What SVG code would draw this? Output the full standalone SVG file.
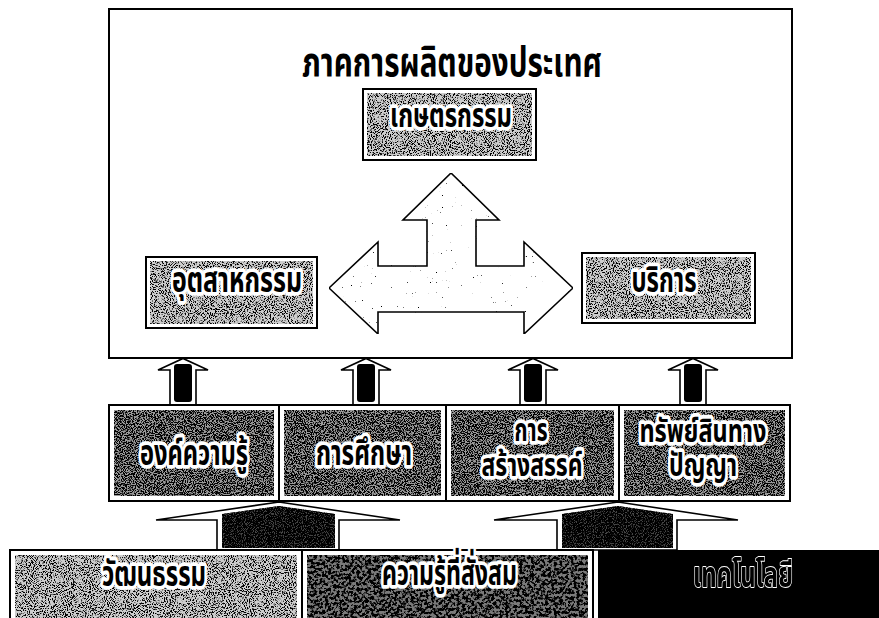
<svg xmlns="http://www.w3.org/2000/svg" width="879" height="618" viewBox="0 0 879 618">
<style>
.frame{fill:#fff;stroke:#000;stroke-width:2}
.box{fill:#fff;stroke:#000;stroke-width:2}
.lt{fill:#cdcdcd}
.md{fill:#9a9a9a}
.arr{fill:#fff;stroke:#000;stroke-width:1.6;stroke-linejoin:miter}
.blk{fill:#000}
.t{font-family:"Noto Sans Thai","Noto Sans Thai UI","Noto Serif Thai","Loma","Garuda","Tlwg Typo","Noto Sans","DejaVu Sans",sans-serif;font-weight:bold;text-anchor:middle;fill:#000}
.h{stroke:#fff;stroke-width:6;stroke-linejoin:round;paint-order:stroke fill}
.hw{stroke:#fff;stroke-width:1.4;stroke-linejoin:round;paint-order:stroke fill}
</style>
<defs>
<filter id="fLt" x="0" y="0" width="1" height="1" color-interpolation-filters="sRGB">
<feTurbulence type="fractalNoise" baseFrequency="0.95" numOctaves="2" seed="3" result="n"/>
<feColorMatrix in="n" type="matrix" values="0 0 0 0 0  0 0 0 0 0  0 0 0 0 0  8 0 0 0 -4.0" result="d"/>
<feComposite in="d" in2="SourceAlpha" operator="in" result="dc"/>
<feMerge><feMergeNode in="SourceGraphic"/><feMergeNode in="dc"/></feMerge>
</filter>
<filter id="fMd" x="0" y="0" width="1" height="1" color-interpolation-filters="sRGB">
<feTurbulence type="fractalNoise" baseFrequency="0.9" numOctaves="3" seed="7" result="n"/>
<feColorMatrix in="n" type="matrix" values="0 0 0 0 0  0 0 0 0 0  0 0 0 0 0  9 0 0 0 -4.0" result="d"/>
<feComposite in="d" in2="SourceAlpha" operator="in" result="dc"/>
<feMerge><feMergeNode in="SourceGraphic"/><feMergeNode in="dc"/></feMerge>
</filter>
<filter id="fDk" x="0" y="0" width="1" height="1" color-interpolation-filters="sRGB">
<feTurbulence type="fractalNoise" baseFrequency="0.35" numOctaves="4" seed="11" result="n"/>
<feColorMatrix in="n" type="matrix" values="0 0 0 0 0  0 0 0 0 0  0 0 0 0 0  7 0 0 0 -3.0" result="d"/>
<feComposite in="d" in2="SourceAlpha" operator="in" result="dc"/>
<feMerge><feMergeNode in="SourceGraphic"/><feMergeNode in="dc"/></feMerge>
</filter>
<filter id="fBk" x="0" y="0" width="1" height="1" color-interpolation-filters="sRGB">
<feTurbulence type="fractalNoise" baseFrequency="0.9" numOctaves="2" seed="9" result="n"/>
<feColorMatrix in="n" type="matrix" values="0 0 0 0 0  0 0 0 0 0  0 0 0 0 0  9 0 0 0 -3.3" result="d"/>
<feComposite in="d" in2="SourceAlpha" operator="in" result="dc"/>
<feMerge><feMergeNode in="SourceGraphic"/><feMergeNode in="dc"/></feMerge>
</filter>
<filter id="fSp" x="0" y="0" width="1" height="1" color-interpolation-filters="sRGB">
<feTurbulence type="fractalNoise" baseFrequency="0.8" numOctaves="2" seed="5" result="n"/>
<feColorMatrix in="n" type="matrix" values="0 0 0 0 0  0 0 0 0 0  0 0 0 0 0  14 0 0 0 -10.8" result="d"/>
<feComposite in="d" in2="SourceAlpha" operator="in" result="dc"/>
<feMerge><feMergeNode in="SourceGraphic"/><feMergeNode in="dc"/></feMerge>
</filter>
</defs>

<g id="main-sector">
<rect class="frame" x="109" y="9" width="683" height="349"/>
<text class="t" transform="translate(452,76) scale(1,1.22)" font-size="33" textLength="300" lengthAdjust="spacingAndGlyphs">ภาคการผลิตของประเทศ</text>
</g>

<g id="connectors">
<polygon class="arr" filter="url(#fSp)" points="451,173 499,220 476,220 476,266 524,266 524,242 573,288 524,334 524,312 378,312 378,334 329,288 378,242 378,266 427,266 427,220 403,220"/>
<g id="up-arrows">
<polygon class="arr" points="170,405 170,370 158,370 183,358.5 208,370 196,370 196,405"/>
<rect class="blk" x="174" y="364" width="18" height="38" rx="3"/>
<polygon class="arr" points="353,405 353,370 341,370 366,358.5 391,370 379,370 379,405"/>
<rect class="blk" x="357" y="364" width="18" height="38" rx="3"/>
<polygon class="arr" points="520,405 520,370 508,370 533,358.5 558,370 546,370 546,405"/>
<rect class="blk" x="524" y="364" width="18" height="38" rx="3"/>
<polygon class="arr" points="680,405 680,370 668,370 693,358.5 718,370 706,370 706,405"/>
<rect class="blk" x="684" y="364" width="18" height="38" rx="3"/>
</g>
<g id="base-arrows">
<polygon class="arr" points="217,550 217,520 156,520 279,502 400,520 339,520 339,550"/>
<polygon fill="#444" filter="url(#fBk)" points="222,548 222,514 279,506 335,514 335,548"/>
<polygon class="arr" points="557,550 557,520 494,520 618,502 738,520 677,520 677,550"/>
<polygon fill="#444" filter="url(#fBk)" points="562,548 562,514 618,506 673,514 673,548"/>
</g>
</g>

<g id="agriculture">
<rect class="box" x="363" y="89" width="173" height="71"/>
<rect class="lt" filter="url(#fLt)" x="367" y="93" width="165" height="63"/>
<text class="t h" transform="translate(451,127) scale(1,1.25)" font-size="27" textLength="122" lengthAdjust="spacingAndGlyphs">เกษตรกรรม</text>
</g>
<g id="industry">
<rect class="box" x="146" y="257" width="171" height="71"/>
<rect class="lt" filter="url(#fLt)" x="150" y="261" width="163" height="63"/>
<text class="t h" transform="translate(237,292) scale(1,1.28)" font-size="27" textLength="130" lengthAdjust="spacingAndGlyphs">อุตสาหกรรม</text>
</g>
<g id="services">
<rect class="box" x="582" y="253" width="173" height="70"/>
<rect class="lt" filter="url(#fLt)" x="586" y="257" width="165" height="62"/>
<text class="t h" transform="translate(664,292) scale(1,1.28)" font-size="27" textLength="65" lengthAdjust="spacingAndGlyphs">บริการ</text>
</g>

<g id="knowledge-body">
<rect class="box" x="109" y="405" width="170" height="96"/>
<rect class="md" filter="url(#fMd)" x="114" y="410" width="160" height="86"/>
<text class="t h" transform="translate(194,465) scale(1,1.28)" font-size="27" textLength="108" lengthAdjust="spacingAndGlyphs">องค์ความรู้</text>
</g>
<g id="education">
<rect class="box" x="279" y="405" width="167" height="96"/>
<rect class="md" filter="url(#fMd)" x="284" y="410" width="157" height="86"/>
<text class="t h" transform="translate(364,465) scale(1,1.28)" font-size="27" textLength="96" lengthAdjust="spacingAndGlyphs">การศึกษา</text>
</g>
<g id="creativity">
<rect class="box" x="446" y="405" width="173" height="96"/>
<rect class="md" filter="url(#fMd)" x="451" y="410" width="163" height="86"/>
<text class="t h" transform="translate(531,441) scale(1,1.25)" font-size="26" textLength="33" lengthAdjust="spacingAndGlyphs">การ</text>
<text class="t h" transform="translate(532,476) scale(1,1.25)" font-size="26" textLength="101" lengthAdjust="spacingAndGlyphs">สร้างสรรค์</text>
</g>
<g id="intellectual-property">
<rect class="box" x="619" y="405" width="171" height="96"/>
<rect class="md" filter="url(#fMd)" x="624" y="410" width="161" height="86"/>
<text class="t h" transform="translate(703,442) scale(1,1.25)" font-size="26" textLength="127" lengthAdjust="spacingAndGlyphs">ทรัพย์สินทาง</text>
<text class="t h" transform="translate(703,476) scale(1,1.25)" font-size="26" textLength="68" lengthAdjust="spacingAndGlyphs">ปัญญา</text>
</g>

<g id="culture">
<rect class="box" x="10" y="550" width="292" height="80"/>
<rect class="lt" filter="url(#fLt)" x="15" y="555" width="282" height="70"/>
<text class="t h" transform="translate(154,586) scale(1,1.28)" font-size="28" textLength="104" lengthAdjust="spacingAndGlyphs">วัฒนธรรม</text>
</g>
<g id="accumulated-knowledge">
<rect class="box" x="302" y="550" width="291" height="80"/>
<rect fill="#7a7a7a" filter="url(#fDk)" x="307" y="555" width="281" height="70"/>
<text class="t h" transform="translate(449.5,585) scale(1,1.28)" font-size="28" textLength="135" lengthAdjust="spacingAndGlyphs">ความรู้ที่สั่งสม</text>
</g>
<g id="technology" opacity="0.999">
<rect fill="#000" x="598" y="550" width="282" height="70"/>
<text class="t hw" transform="translate(743,587) scale(1,1.28)" font-size="28" textLength="100" lengthAdjust="spacingAndGlyphs">เทคโนโลยี</text>
</g>
</svg>
